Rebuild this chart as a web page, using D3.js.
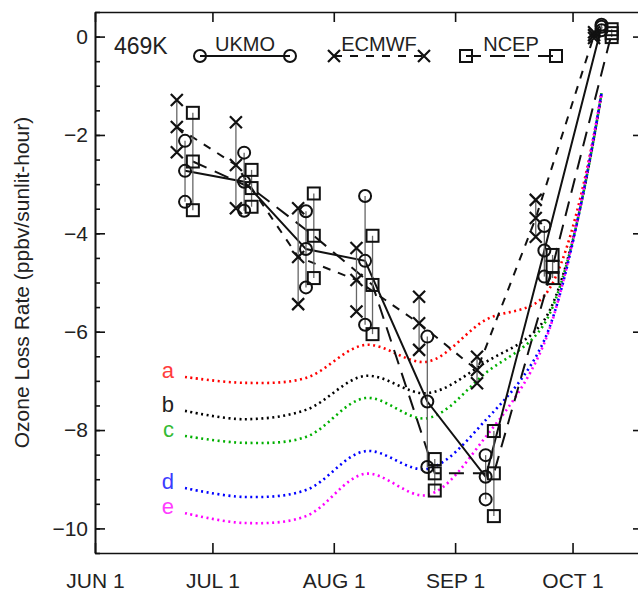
<!DOCTYPE html>
<html>
<head>
<meta charset="utf-8">
<script src="https://cdn.jsdelivr.net/npm/d3@7"></script>
<style>
  body { margin: 0; background: #fff; }
  #chart { width: 638px; height: 596px; overflow: hidden; }
  text { font-family: "Liberation Sans", Arial, Helvetica, sans-serif; fill: #222; }
</style>
</head>
<body>
<div id="chart"></div>
<script>
// days after Jun 1 of each period centre, one list per model
const days_ukmo = [23.0, 38.1, 53.9, 69.0, 84.9, 99.8, 114.8, 129.4];
const days_ecmwf = [20.9, 36.0, 51.9, 66.8, 82.8, 97.6, 112.6, 127.5];
const days_ncep = [25.0, 40.0, 55.9, 70.9, 86.8, 101.9, 116.9, 132.0];

// loss rate per period: [high, mid, low]
const ukmo = [[-2.12, -2.73, -3.36], [-2.36, -2.95, -3.54], [-3.55, -4.32, -5.10], [-3.24, -4.56, -5.86],
              [-6.10, -7.42, -8.75], [-8.51, -8.95, -9.41], [-3.85, -4.35, -4.88], [0.24, 0.20, 0.13]];
const ecmwf = [[-1.29, -1.84, -2.35], [-1.74, -2.61, -3.49], [-3.49, -4.48, -5.44], [-4.30, -4.95, -5.59],
               [-5.29, -5.83, -6.37], [-6.51, -6.78, -7.05], [-3.32, -3.69, -4.07], [0.09, 0.03, -0.03]];
const ncep = [[-1.55, -2.54, -3.53], [-2.71, -3.08, -3.46], [-3.19, -4.05, -4.91], [-4.05, -5.05, -6.05],
              [-8.59, -8.88, -9.23], [-8.02, -8.88, -9.75], [-4.44, -4.68, -4.91], [0.15, 0.07, -0.01]];

// model runs a..e, on the UKMO period days
const run_names = ["a", "b", "c", "d", "e"];
const run_a = [-6.92, -7.04, -6.94, -6.27, -6.61, -5.76, -5.27, -1.15];
const run_b = [-7.61, -7.78, -7.59, -6.90, -7.25, -6.62, -5.76, -1.15];
const run_c = [-8.12, -8.26, -8.14, -7.35, -7.76, -6.84, -5.84, -1.15];
const run_d = [-9.18, -9.36, -9.22, -8.43, -8.79, -7.80, -6.17, -1.15];
const run_e = [-9.69, -9.89, -9.75, -8.89, -9.32, -8.14, -6.23, -1.15];

const month_ticks = ["2003-06-01", "2003-07-01", "2003-08-01", "2003-09-01", "2003-10-01"];
const y_major = [0, -2, -4, -6, -8, -10];
const y_minor = d3.range(0.5, -10.51, -0.5);

const start = Date.UTC(2003, 5, 1);
const to_date = d => new Date(start + d * 864e5);

class OzoneChart {
    constructor(id) {
        this.div = id;
        this.width = 638;
        this.height = 596;
        this.plot = { left: 95, right: 643, top: 12, bottom: 553 };
    }

    add_svg() {
        const div = d3.select(`#${this.div}`);
        div.selectAll("*").remove();
        this.svg = div.append("svg")
            .attr("width", this.width)
            .attr("height", this.height);
    }

    add_scale() {
        this.x = d3.scaleUtc()
            .domain([to_date(0), to_date(140)])
            .range([this.plot.left, this.plot.right]);
        this.y = d3.scaleLinear()
            .domain([-10.5, 0.5])
            .range([this.plot.bottom, this.plot.top]);
    }

    add_axis() {
        const p = this.plot;
        const ticks = month_ticks.map(s => new Date(s + "T00:00:00Z"));
        const fmt = d => d3.utcFormat("%b %-d")(d).toUpperCase();
        const style = g => {
            g.selectAll("path, line").attr("stroke", "#111").attr("stroke-width", 1.6);
            g.selectAll("text").attr("font-size", 21).attr("fill", "#222");
        };

        this.svg.append("g").attr("transform", `translate(0,${p.bottom})`)
            .call(d3.axisBottom(this.x).tickValues(ticks).tickFormat(fmt)
                .tickSizeInner(-10).tickSizeOuter(0).tickPadding(20))
            .call(style);
        this.svg.append("g").attr("transform", `translate(0,${p.top})`)
            .call(d3.axisTop(this.x).tickValues(ticks).tickFormat("")
                .tickSizeInner(-10).tickSizeOuter(0))
            .call(style);

        [["left", p.left, d3.axisLeft], ["right", p.right, d3.axisRight]].forEach(([side, xpos, ax]) => {
            this.svg.append("g").attr("transform", `translate(${xpos},0)`)
                .call(ax(this.y).tickValues(y_minor).tickFormat("").tickSizeInner(-5).tickSizeOuter(0))
                .call(style);
            this.svg.append("g").attr("transform", `translate(${xpos},0)`)
                .call(ax(this.y).tickValues(y_major).tickFormat(side == "left" ? d3.format("d") : "")
                    .tickSizeInner(-10).tickSizeOuter(0).tickPadding(7))
                .call(style);
        });

        this.svg.append("text")
            .attr("transform", `translate(29,${(p.top + p.bottom) / 2}) rotate(-90)`)
            .attr("text-anchor", "middle")
            .attr("font-size", 21)
            .text("Ozone Loss Rate (ppbv/sunlit-hour)");
    }

    marker(g, type, cx, cy) {
        const s = 6;
        if (type == "circle") {
            g.append("circle").attr("cx", cx).attr("cy", cy).attr("r", s)
                .attr("fill", "none").attr("stroke", "#111").attr("stroke-width", 2);
        } else if (type == "square") {
            g.append("rect").attr("x", cx - s).attr("y", cy - s).attr("width", 2 * s).attr("height", 2 * s)
                .attr("fill", "none").attr("stroke", "#111").attr("stroke-width", 2);
        } else {
            g.append("path")
                .attr("d", `M${cx - s},${cy - s}L${cx + s},${cy + s}M${cx - s},${cy + s}L${cx + s},${cy - s}`)
                .attr("stroke", "#111").attr("stroke-width", 2.2);
        }
    }

    draw_runs() {
        const colors = ["#ff0000", "#000000", "#00b000", "#0000ff", "#ff00ff"];
        const label_colors = ["#ff3c3c", "#222", "#33bb33", "#3c3cff", "#ff3cff"];
        const runs = [run_a, run_b, run_c, run_d, run_e];
        const line = d3.line()
            .x((v, i) => this.x(to_date(days_ukmo[i])))
            .y(v => this.y(v))
            .curve(d3.curveCatmullRom.alpha(0.5));
        const g = this.svg.append("g");
        runs.forEach((r, k) => {
            g.append("path").attr("d", line(r))
                .attr("fill", "none").attr("stroke", colors[k])
                .attr("stroke-width", 2.6).attr("stroke-dasharray", "2,3.5");
            g.append("text")
                .attr("x", this.x(to_date(days_ukmo[0])) - 11)
                .attr("y", this.y(r[0]) + 1)
                .attr("text-anchor", "end")
                .attr("font-size", 22)
                .style("fill", label_colors[k])
                .text(run_names[k]);
        });
    }

    draw_models() {
        const models = [
            { days: days_ukmo, vals: ukmo, mk: "circle", dash: null },
            { days: days_ecmwf, vals: ecmwf, mk: "x", dash: "8,8" },
            { days: days_ncep, vals: ncep, mk: "square", dash: "15,9" }
        ];
        const g = this.svg.append("g");
        models.forEach(m => {
            const line = d3.line()
                .x((v, i) => this.x(to_date(m.days[i])))
                .y(v => this.y(v[1]));
            g.append("path").attr("d", line(m.vals))
                .attr("fill", "none").attr("stroke", "#111").attr("stroke-width", 2)
                .attr("stroke-dasharray", m.dash);
        });
        models.forEach(m => {
            m.vals.forEach((v, i) => {
                const cx = this.x(to_date(m.days[i]));
                g.append("line")
                    .attr("x1", cx).attr("x2", cx)
                    .attr("y1", this.y(v[0])).attr("y2", this.y(v[2]))
                    .attr("stroke", "#666").attr("stroke-width", 1.3);
                v.forEach(val => this.marker(g, m.mk, cx, this.y(val)));
            });
        });
    }

    add_legend() {
        const g = this.svg.append("g");
        g.append("text").attr("x", 114).attr("y", 54).attr("font-size", 23).text("469K");
        const items = [
            { name: "UKMO", x0: 200, mk: "circle", dash: null },
            { name: "ECMWF", x0: 334, mk: "x", dash: "8,8" },
            { name: "NCEP", x0: 466, mk: "square", dash: "15,9" }
        ];
        const ly = 56, len = 90;
        items.forEach(it => {
            g.append("line").attr("x1", it.x0).attr("x2", it.x0 + len)
                .attr("y1", ly).attr("y2", ly)
                .attr("stroke", "#111").attr("stroke-width", 2)
                .attr("stroke-dasharray", it.dash);
            this.marker(g, it.mk, it.x0, ly);
            this.marker(g, it.mk, it.x0 + len, ly);
            g.append("text").attr("x", it.x0 + len / 2).attr("y", 51)
                .attr("text-anchor", "middle").attr("font-size", 20).text(it.name);
        });
    }

    render() {
        this.add_svg();
        this.add_scale();
        this.draw_runs();
        this.draw_models();
        this.add_axis();
        this.add_legend();
    }
}

new OzoneChart("chart").render();
</script>
</body>
</html>
